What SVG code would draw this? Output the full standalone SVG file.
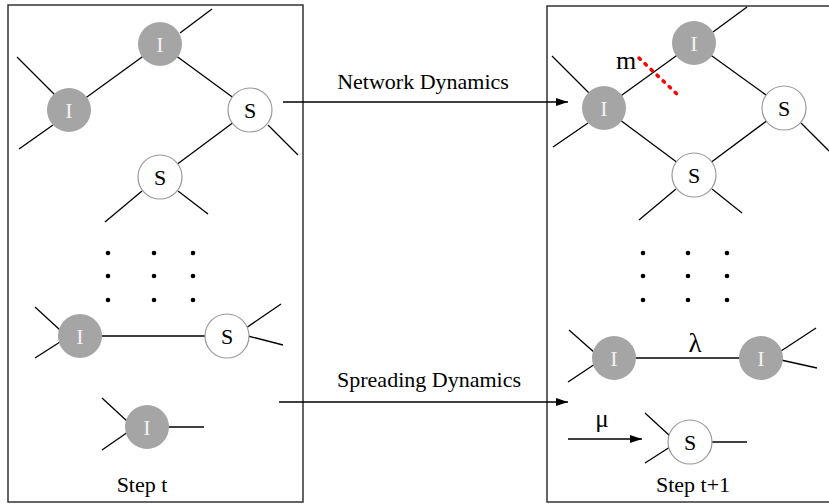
<svg xmlns="http://www.w3.org/2000/svg" width="829" height="504" viewBox="0 0 829 504">
<style>
.box{fill:none;stroke:#333;stroke-width:1.5}
.e{stroke:#000;stroke-width:1.3;fill:none}
.ni{fill:#a5a5a5}
.ns{fill:#fff;stroke:#999;stroke-width:1.2}
.ti{fill:#f2f2f2;text-anchor:middle}
.ts{fill:#000;text-anchor:middle}
.lbl{fill:#000;text-anchor:middle}
.dot{fill:#000}
</style>
<defs>
<marker id="ah" markerWidth="12" markerHeight="8" refX="12" refY="4" orient="auto" markerUnits="userSpaceOnUse">
<path d="M0,0 L12,4 L0,8 z" fill="#000"/>
</marker>
</defs>
<rect x="0" y="0" width="829" height="504" fill="#fff"/>
<rect id="panel-t" class="box" x="8" y="5" width="295" height="497"/>
<rect id="panel-t1" class="box" x="547" y="6" width="290" height="496"/>
<g id="connectors">
<line class="e" x1="180" y1="33" x2="212" y2="9"/>
<line class="e" x1="160" y1="44" x2="69" y2="110"/>
<line class="e" x1="160" y1="44" x2="250" y2="110"/>
<line class="e" x1="17" y1="57" x2="55" y2="95"/>
<line class="e" x1="19" y1="149" x2="53" y2="125"/>
<line class="e" x1="268" y1="125" x2="298" y2="155"/>
<line class="e" x1="250" y1="110" x2="160" y2="177"/>
<line class="e" x1="142" y1="191" x2="105" y2="222"/>
<line class="e" x1="178" y1="191" x2="208" y2="214"/>
<line class="e" x1="35" y1="307" x2="60" y2="330"/>
<line class="e" x1="35" y1="358" x2="60" y2="342"/>
<line class="e" x1="80" y1="336" x2="227" y2="336"/>
<line class="e" x1="246" y1="328" x2="281" y2="304"/>
<line class="e" x1="248" y1="336" x2="283" y2="345"/>
<line class="e" x1="102" y1="398" x2="128" y2="422"/>
<line class="e" x1="102" y1="450" x2="128" y2="432"/>
<line class="e" x1="166" y1="427" x2="204" y2="427"/>
<line class="e" x1="713" y1="32" x2="747" y2="7"/>
<line class="e" x1="694" y1="43" x2="604" y2="108"/>
<line class="e" x1="694" y1="43" x2="784" y2="108"/>
<line class="e" x1="552" y1="56" x2="590" y2="94"/>
<line class="e" x1="553" y1="147" x2="588" y2="123"/>
<line class="e" x1="604" y1="108" x2="694" y2="175"/>
<line class="e" x1="784" y1="108" x2="694" y2="175"/>
<line class="e" x1="801" y1="123" x2="829" y2="151"/>
<line class="e" x1="676" y1="189" x2="639" y2="220"/>
<line class="e" x1="712" y1="189" x2="742" y2="213"/>
<line class="e" x1="569" y1="330" x2="595" y2="353"/>
<line class="e" x1="568" y1="382" x2="595" y2="364"/>
<line class="e" x1="614" y1="358" x2="761" y2="358"/>
<line class="e" x1="781" y1="351" x2="816" y2="328"/>
<line class="e" x1="781" y1="360" x2="817" y2="368"/>
<line class="e" x1="645" y1="413" x2="670" y2="436"/>
<line class="e" x1="645" y1="463" x2="670" y2="447"/>
<line class="e" x1="710" y1="442" x2="747" y2="442"/>
<line x1="639" y1="58" x2="679" y2="96" stroke="#f00" stroke-width="3.5" stroke-linecap="round" stroke-dasharray="1.8 6.5"/>
<line class="e" x1="283" y1="102" x2="568" y2="102" marker-end="url(#ah)"/>
<line class="e" x1="279" y1="402" x2="568" y2="402" marker-end="url(#ah)"/>
<line class="e" x1="568" y1="439" x2="642" y2="439" marker-end="url(#ah)"/>
</g>
<g font-family="'Liberation Serif', 'Times New Roman', serif" font-size="22">
<g id="L-I1"><circle class="ni" cx="160" cy="44" r="22"/><text class="ti" x="160" y="52">I</text></g>
<g id="L-I2"><circle class="ni" cx="69" cy="110" r="22"/><text class="ti" x="69" y="118">I</text></g>
<g id="L-S1"><circle class="ns" cx="250" cy="110" r="22"/><text class="ts" x="250" y="118">S</text></g>
<g id="L-S2"><circle class="ns" cx="160" cy="177" r="22"/><text class="ts" x="160" y="185">S</text></g>
<g id="L-dots">
<circle class="dot" cx="108" cy="253" r="2.3"/><circle class="dot" cx="154" cy="253" r="2.3"/><circle class="dot" cx="193" cy="253" r="2.3"/>
<circle class="dot" cx="108" cy="276" r="2.3"/><circle class="dot" cx="154" cy="276" r="2.3"/><circle class="dot" cx="193" cy="276" r="2.3"/>
<circle class="dot" cx="108" cy="300" r="2.3"/><circle class="dot" cx="154" cy="300" r="2.3"/><circle class="dot" cx="193" cy="300" r="2.3"/>
</g>
<g id="L-I3"><circle class="ni" cx="80" cy="336" r="22"/><text class="ti" x="80" y="344">I</text></g>
<g id="L-S3"><circle class="ns" cx="227" cy="336" r="22"/><text class="ts" x="227" y="344">S</text></g>
<g id="L-I4"><circle class="ni" cx="147" cy="427" r="22"/><text class="ti" x="147" y="435">I</text></g>
<g id="R-I1"><circle class="ni" cx="694" cy="43" r="22"/><text class="ti" x="694" y="51">I</text></g>
<g id="R-I2"><circle class="ni" cx="604" cy="108" r="22"/><text class="ti" x="604" y="116">I</text></g>
<g id="R-S1"><circle class="ns" cx="784" cy="108" r="22"/><text class="ts" x="784" y="116">S</text></g>
<g id="R-S2"><circle class="ns" cx="694" cy="175" r="22"/><text class="ts" x="694" y="183">S</text></g>
<g id="R-dots">
<circle class="dot" cx="643" cy="253" r="2.3"/><circle class="dot" cx="688" cy="253" r="2.3"/><circle class="dot" cx="727" cy="253" r="2.3"/>
<circle class="dot" cx="643" cy="276" r="2.3"/><circle class="dot" cx="688" cy="276" r="2.3"/><circle class="dot" cx="727" cy="276" r="2.3"/>
<circle class="dot" cx="643" cy="300" r="2.3"/><circle class="dot" cx="688" cy="300" r="2.3"/><circle class="dot" cx="727" cy="300" r="2.3"/>
</g>
<g id="R-I3"><circle class="ni" cx="614" cy="358" r="22"/><text class="ti" x="614" y="366">I</text></g>
<g id="R-I4"><circle class="ni" cx="761" cy="358" r="22"/><text class="ti" x="761" y="366">I</text></g>
<g id="R-S3"><circle class="ns" cx="690" cy="442" r="22"/><text class="ts" x="690" y="450">S</text></g>
<g id="labels">
<text class="lbl" x="423" y="89">Network Dynamics</text>
<text class="lbl" x="429" y="387">Spreading Dynamics</text>
<text class="lbl" x="142" y="492">Step t</text>
<text class="lbl" x="693" y="492">Step t+1</text>
<text class="lbl" x="626" y="69" font-size="26">m</text>
<text class="lbl" x="695" y="352" font-size="27">λ</text>
<text class="lbl" x="602" y="427" font-size="25">μ</text>
</g>
</g>
</svg>
